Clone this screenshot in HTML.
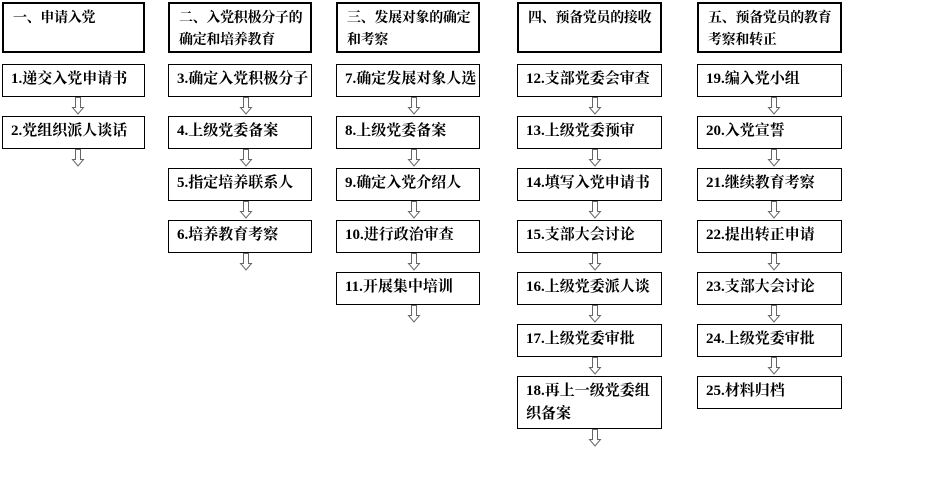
<!DOCTYPE html>
<html><head><meta charset="utf-8"><style>
body{margin:0;width:925px;height:480px;background:#fff;position:relative;overflow:hidden;font-family:"Liberation Serif","Noto Serif CJK SC",serif;font-weight:bold;color:#000}
.h{position:absolute;box-sizing:border-box;border:2px solid #000;height:51px;top:2px;padding:4px 0 0 9px;font-size:14px;line-height:22px;letter-spacing:-0.3px;white-space:normal}
.b{position:absolute;box-sizing:border-box;border:1px solid #000;height:33px;padding:0 0 0 8px;font-size:15px;line-height:29px}
svg.a{position:absolute;width:14px;height:18px}
</style></head><body>
<div class="h" style="left:2px;width:143px">一、申请入党</div>
<div class="h" style="left:168px;width:144px">二、入党积极分子的<br>确定和培养教育</div>
<div class="h" style="left:336px;width:144px">三、发展对象的确定<br>和考察</div>
<div class="h" style="left:517px;width:145px">四、预备党员的接收</div>
<div class="h" style="left:697px;width:145px">五、预备党员的教育<br>考察和转正</div>
<div id="c"></div>
<script>
var cols=[[2,143,78,["1.递交入党申请书","2.党组织派人谈话"]],
[168,144,246,["3.确定入党积极分子","4.上级党委备案","5.指定培养联系人","6.培养教育考察"]],
[336,144,414,["7.确定发展对象人选","8.上级党委备案","9.确定入党介绍人","10.进行政治审查","11.开展集中培训"]],
[517,145,595,["12.支部党委会审查","13.上级党委预审","14.填写入党申请书","15.支部大会讨论","16.上级党委派人谈","17.上级党委审批","18.再上一级党委组织备案"]],
[697,145,774,["19.编入党小组","20.入党宣誓","21.继续教育考察","22.提出转正申请","23.支部大会讨论","24.上级党委审批","25.材料归档"]]];
var h="";
cols.forEach(function(c,ci){c[3].forEach(function(t,i){var y=64+52*i;var tall=(ci==3&&i==6);
var ht=tall?53:33;
h+='<div class="b" style="left:'+c[0]+'px;top:'+y+'px;width:'+c[1]+'px;height:'+ht+'px;'+(tall?'line-height:23px;padding-top:3px;padding-right:6px':'')+'">'+t+'</div>';
var last=i==c[3].length-1;
if(!(ci==4&&last)){var ay=y+ht;
h+='<svg class="a" style="left:'+(c[2]-7)+'px;top:'+ay+'px" viewBox="0 0 14 18"><path d="M4.5 0.5H9.5V10.5H12.5L7 17L1.5 10.5H4.5Z" fill="#fff" stroke="#666" stroke-width="1"/></svg>';}
});});
document.getElementById("c").innerHTML=h;
</script>
</body></html>
